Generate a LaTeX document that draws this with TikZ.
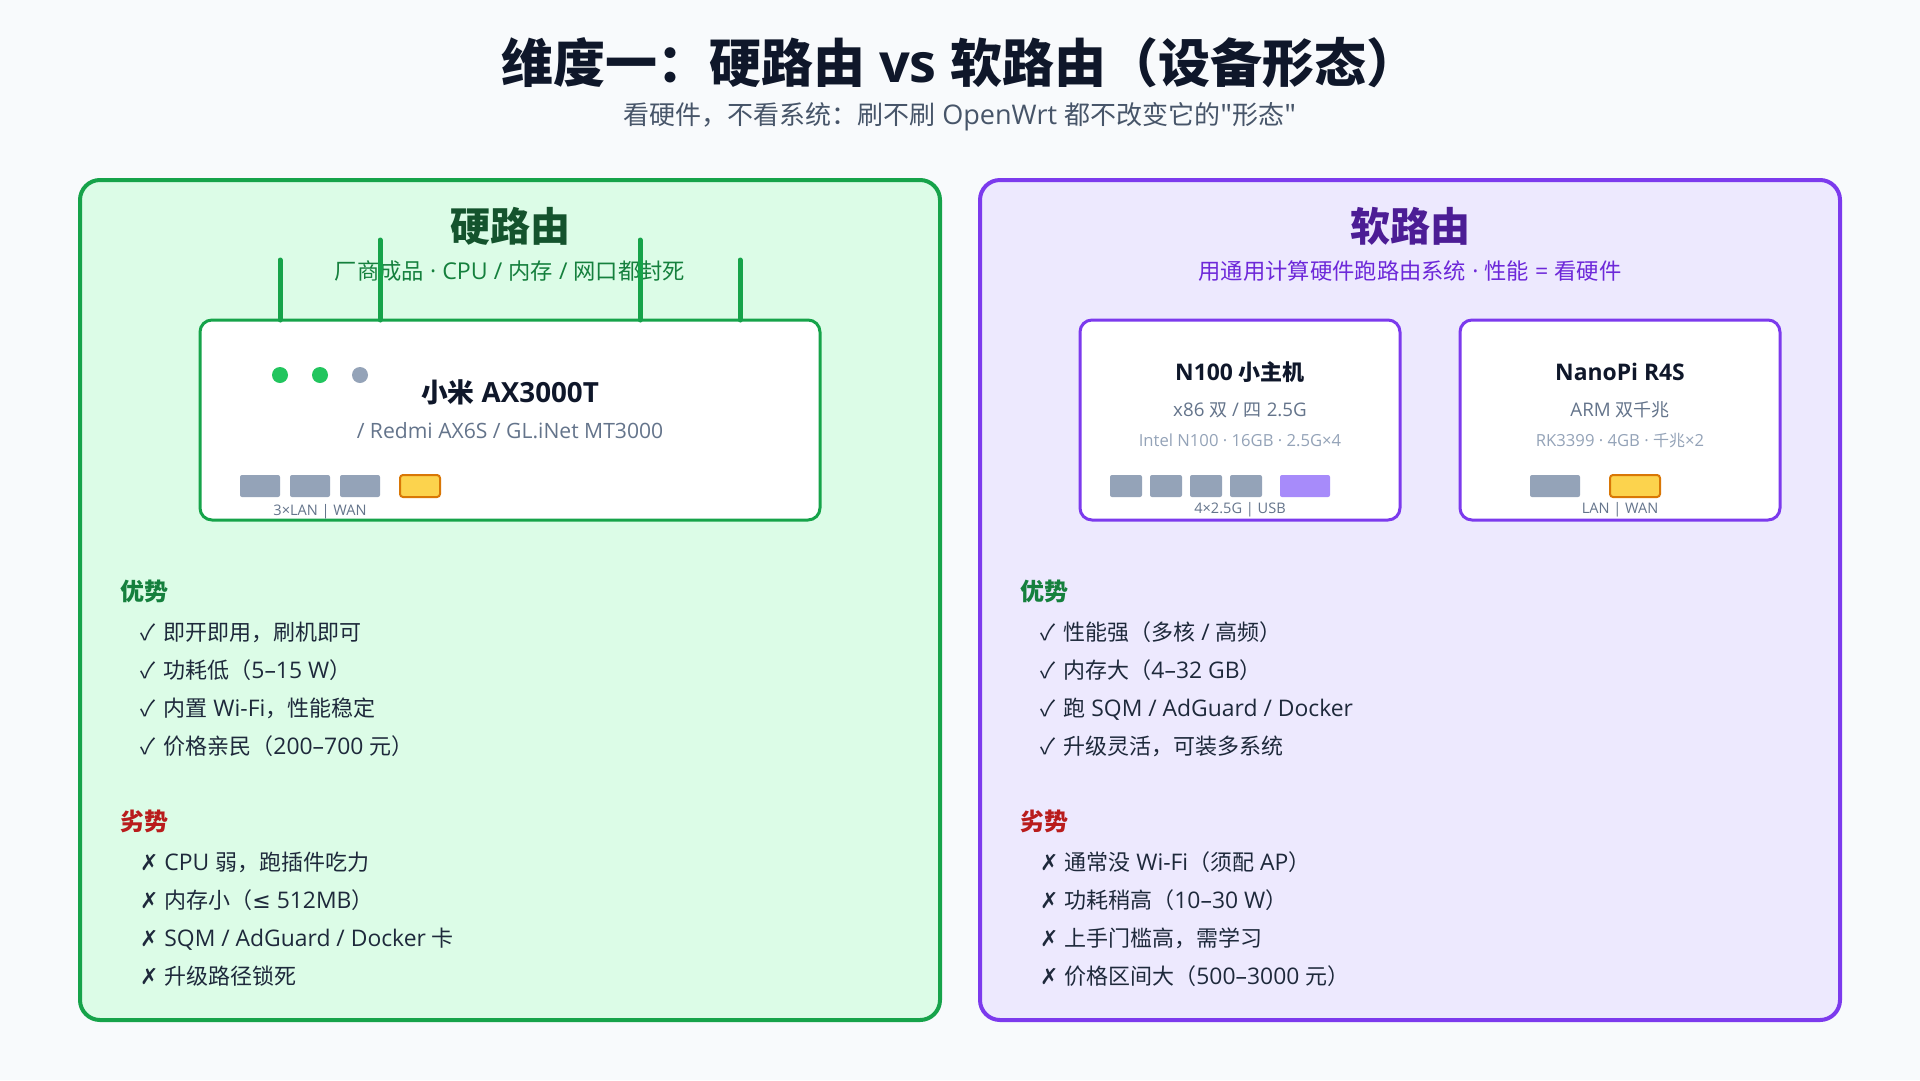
\documentclass[tikz,border=0pt]{standalone}
\usepackage{fontspec}
\setmainfont[Scale=1.04]{Open Sans}
\newfontfamily\cjkfam{Noto Sans CJK SC}
\newfontfamily\symfam{DejaVu Sans}
\newcommand{\zh}[1]{{\cjkfam #1}}
\newcommand{\okm}{{\cjkfam ✓}\kern2.5pt}
\newcommand{\nom}{{\symfam ✗}}
\newcommand{\fs}[1]{\fontsize{#1}{#1}\selectfont}
\definecolor{bgc}{HTML}{F8FAFC}
\definecolor{ink}{HTML}{0F172A}
\definecolor{itemc}{HTML}{1E293B}
\definecolor{subc}{HTML}{475569}
\definecolor{gr}{HTML}{16A34A}
\definecolor{grfill}{HTML}{DCFCE7}
\definecolor{grdark}{HTML}{14532D}
\definecolor{grmid}{HTML}{15803D}
\definecolor{pu}{HTML}{7C3AED}
\definecolor{pufill}{HTML}{EDE9FE}
\definecolor{pudark}{HTML}{4C1D95}
\definecolor{pumid}{HTML}{6D28D9}
\definecolor{slate}{HTML}{64748B}
\definecolor{slatel}{HTML}{94A3B8}
\definecolor{redc}{HTML}{B91C1C}
\definecolor{ledg}{HTML}{22C55E}
\definecolor{wanf}{HTML}{FCD34D}
\definecolor{wans}{HTML}{D97706}
\definecolor{usbf}{HTML}{A78BFA}
\tikzset{
  panel/.style={draw=#1,line width=4pt,rounded corners=20pt,inner sep=0pt,outer sep=0pt,minimum width=860pt,minimum height=840pt},
  devcard/.style={draw=#1,line width=3pt,rounded corners=12pt,fill=white,inner sep=0pt,outer sep=0pt,minimum height=200pt},
  txt/.style={inner sep=0pt,outer sep=0pt,anchor=base},
  ltxt/.style={inner sep=0pt,outer sep=0pt,anchor=base west},
  titletxt/.style={txt,font=\fs{52}\bfseries,text=ink},
  subtxt/.style={txt,font=\fs{26},text=subc},
  headtxt/.style={txt,font=\fs{40}\bfseries},
  paneltxt/.style={txt,font=\fs{22.3}},
  secthead/.style={ltxt,font=\fs{24}\bfseries},
  itemtxt/.style={ltxt,font=\fs{22},text=itemc},
  port/.style={fill=slatel,rounded corners=2pt,inner sep=0pt,outer sep=0pt,minimum height=22pt,minimum width=#1},
  wanport/.style={fill=wanf,draw=wans,line width=2pt,rounded corners=3pt,inner sep=0pt,outer sep=0pt,minimum height=22pt,minimum width=#1},
  usbport/.style={fill=usbf,rounded corners=2pt,inner sep=0pt,outer sep=0pt,minimum height=22pt,minimum width=#1},
  led/.style={circle,fill=#1,inner sep=0pt,outer sep=0pt,minimum size=16pt},
  antenna/.style={draw=gr,line width=5pt,line cap=round},
  captxt/.style={txt,font=\fs{14},text=slate},
}
\begin{document}
\begin{tikzpicture}[x=1pt,y=-1pt]
\useasboundingbox[fill=bgc] (0,0) rectangle (1920,1080);
\node[titletxt] (title) at (960,82) {\zh{维度一：硬路由} vs \zh{软路由（设备形态）}};
\node[subtxt] (subtitle) at (960,124) {\zh{看硬件，不看系统：刷不刷} OpenWrt \zh{都不改变它的"形态"}};
% panels
\node[panel=gr,fill=grfill] (left) at (510,600) {};
\node[panel=pu,fill=pufill] (right) at (1410,600) {};
\node[headtxt,text=grdark] (lhead) at (510,241) {\zh{硬路由}};
\node[paneltxt,text=grmid] (lsub) at (510,279) {\zh{厂商成品} · CPU / \zh{内存} / \zh{网口都封死}};
\node[headtxt,text=pudark] (rhead) at (1410,241) {\zh{软路由}};
\node[paneltxt,text=pumid] (rsub) at (1410,279) {\zh{用通用计算硬件跑路由系统} · \zh{性能} = \zh{看硬件}};
% router
\node[devcard=gr,minimum width=620pt] (router) at (510,420) {};
\foreach \n/\x/\t in {a1/280/260,a2/380/240,a3/640/240,a4/740/260}{
  \coordinate (\n) at (\x,\t);
  \draw[antenna] (\n) -- (\n |- router.north);
}
\node[led=ledg] (l1) at (280,375) {};
\node[led=ledg] (l2) at (320,375) {};
\node[led=slatel] (l3) at (360,375) {};
\node[txt,font=\fs{26.7}\bfseries,text=ink] (rname) at (510,402) {\zh{小米} AX3000T};
\node[txt,font=\fs{20.3},text=slate] (rmodels) at (510,438) {/ Redmi AX6S / GL.iNet MT3000};
\node[port=40pt] (p1) at (260,486) {};
\node[port=40pt] (p2) at (310,486) {};
\node[port=40pt] (p3) at (360,486) {};
\node[wanport=40pt] (p4) at (420,486) {};
\node[captxt] (rcap) at (320,515) {3×LAN | WAN};
% N100
\node[devcard=pu,minimum width=320pt] (n100) at (1240,420) {};
\node[txt,font=\fs{22}\bfseries,text=ink] (nname) at (1240,380) {N100 \zh{小主机}};
\node[txt,font=\fs{18},text=slate] (nspec) at (1240,416) {x86 \zh{双} / \zh{四} 2.5G};
\node[txt,font=\fs{16},text=slatel] (ndet) at (1240,446) {Intel N100 · 16GB · 2.5G×4};
\node[port=32pt] (n1) at (1126,486) {};
\node[port=32pt] (n2) at (1166,486) {};
\node[port=32pt] (n3) at (1206,486) {};
\node[port=32pt] (n4) at (1246,486) {};
\node[usbport=50pt] (n5) at (1305,486) {};
\node[captxt] (ncap) at (1240,513) {4×2.5G | USB};
% R4S
\node[devcard=pu,minimum width=320pt] (r4s) at (1620,420) {};
\node[txt,font=\fs{22}\bfseries,text=ink] (sname) at (1620,380) {NanoPi R4S};
\node[txt,font=\fs{18},text=slate] (sspec) at (1620,416) {ARM \zh{双千兆}};
\node[txt,font=\fs{16},text=slatel] (sdet) at (1620,446) {RK3399 · 4GB · \zh{千兆}×2};
\node[port=50pt] (s1) at (1555,486) {};
\node[wanport=50pt] (s2) at (1635,486) {};
\node[captxt] (scap) at (1620,513) {LAN | WAN};
% left lists
\node[secthead,text=grmid] (lpro) at (120,600) {\zh{优势}};
\node[itemtxt] (lp1) at (140,640) {\okm\ \zh{即开即用，刷机即可}};
\node[itemtxt] (lp2) at (140,678) {\okm\ \zh{功耗低（}5–15 W\zh{）}};
\node[itemtxt] (lp3) at (140,716) {\okm\ \zh{内置} Wi-Fi\zh{，性能稳定}};
\node[itemtxt] (lp4) at (140,754) {\okm\ \zh{价格亲民（}200–700 \zh{元）}};
\node[secthead,text=redc] (lcon) at (120,830) {\zh{劣势}};
\node[itemtxt] (lc1) at (140,870) {\nom\ CPU \zh{弱，跑插件吃力}};
\node[itemtxt] (lc2) at (140,908) {\nom\ \zh{内存小（}{\symfam ≤} 512MB\zh{）}};
\node[itemtxt] (lc3) at (140,946) {\nom\ SQM / AdGuard / Docker \zh{卡}};
\node[itemtxt] (lc4) at (140,984) {\nom\ \zh{升级路径锁死}};
% right lists
\node[secthead,text=grmid] (rpro) at (1020,600) {\zh{优势}};
\node[itemtxt] (rp1) at (1040,640) {\okm\ \zh{性能强（多核} / \zh{高频）}};
\node[itemtxt] (rp2) at (1040,678) {\okm\ \zh{内存大（}4–32 GB\zh{）}};
\node[itemtxt] (rp3) at (1040,716) {\okm\ \zh{跑} SQM / AdGuard / Docker};
\node[itemtxt] (rp4) at (1040,754) {\okm\ \zh{升级灵活，可装多系统}};
\node[secthead,text=redc] (rcon) at (1020,830) {\zh{劣势}};
\node[itemtxt] (rc1) at (1040,870) {\nom\ \zh{通常没} Wi-Fi\zh{（须配} AP\zh{）}};
\node[itemtxt] (rc2) at (1040,908) {\nom\ \zh{功耗稍高（}10–30 W\zh{）}};
\node[itemtxt] (rc3) at (1040,946) {\nom\ \zh{上手门槛高，需学习}};
\node[itemtxt] (rc4) at (1040,984) {\nom\ \zh{价格区间大（}500–3000 \zh{元）}};
\end{tikzpicture}
\end{document}
